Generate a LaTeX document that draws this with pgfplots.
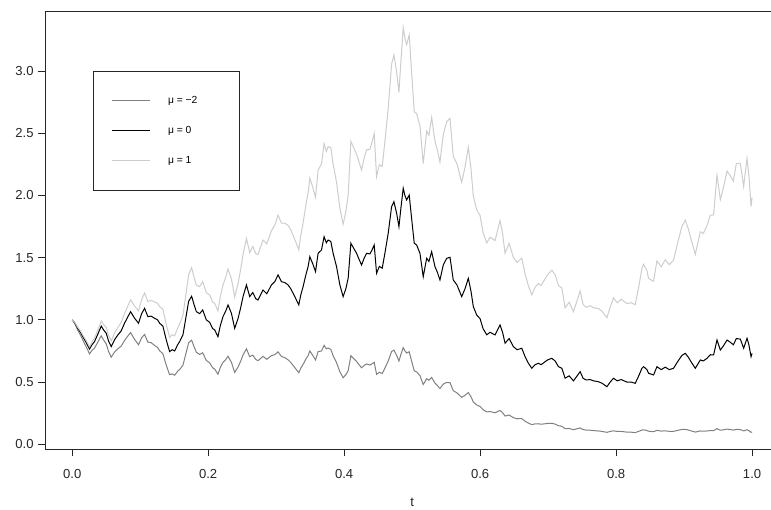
\documentclass[border=0pt]{standalone}
\usepackage{pgfplots}
\pgfplotsset{compat=1.18}
\usepackage{pgfplotstable}
\usepackage{fontspec}
\setmainfont{Liberation Sans}
\definecolor{gA}{RGB}{128,128,128}
\definecolor{gC}{RGB}{205,205,205}
\pgfplotstableread{
t m2 m0 m1
0.0000 1.000 1.000 1.000
0.0041 0.967 0.975 0.979
0.0082 0.917 0.932 0.940
0.0122 0.878 0.900 0.911
0.0156 0.838 0.865 0.879
0.0203 0.787 0.820 0.837
0.0255 0.727 0.765 0.785
0.0292 0.755 0.800 0.824
0.0328 0.773 0.825 0.853
0.0373 0.817 0.880 0.913
0.0427 0.872 0.950 0.991
0.0461 0.839 0.920 0.963
0.0501 0.807 0.892 0.938
0.0535 0.746 0.830 0.876
0.0574 0.700 0.785 0.831
0.0623 0.742 0.840 0.894
0.0672 0.768 0.879 0.940
0.0719 0.788 0.910 0.978
0.0770 0.834 0.973 1.051
0.0814 0.867 1.020 1.106
0.0859 0.898 1.066 1.162
0.0918 0.843 1.013 1.110
0.0976 0.800 0.973 1.073
0.1021 0.856 1.050 1.163
0.1065 0.883 1.093 1.216
0.1113 0.821 1.026 1.147
0.1161 0.817 1.030 1.157
0.1212 0.795 1.013 1.144
0.1256 0.778 1.000 1.134
0.1286 0.752 0.973 1.107
0.1334 0.728 0.950 1.086
0.1384 0.635 0.838 0.962
0.1433 0.559 0.745 0.860
0.1470 0.566 0.760 0.880
0.1507 0.555 0.750 0.872
0.1551 0.587 0.800 0.934
0.1580 0.601 0.825 0.966
0.1629 0.635 0.879 1.035
0.1679 0.743 1.040 1.230
0.1713 0.816 1.150 1.365
0.1757 0.837 1.190 1.419
0.1794 0.782 1.120 1.340
0.1826 0.740 1.066 1.280
0.1875 0.722 1.050 1.267
0.1919 0.736 1.080 1.308
0.1973 0.674 1.000 1.218
0.2022 0.654 0.980 1.200
0.2066 0.615 0.930 1.143
0.2096 0.604 0.919 1.133
0.2144 0.563 0.865 1.072
0.2177 0.615 0.950 1.181
0.2218 0.658 1.026 1.281
0.2258 0.681 1.070 1.341
0.2292 0.708 1.120 1.409
0.2342 0.659 1.053 1.331
0.2390 0.578 0.932 1.184
0.2439 0.620 1.010 1.289
0.2479 0.670 1.100 1.409
0.2513 0.718 1.187 1.526
0.2563 0.767 1.281 1.655
0.2611 0.704 1.187 1.541
0.2656 0.717 1.220 1.591
0.2700 0.682 1.170 1.533
0.2733 0.672 1.160 1.525
0.2807 0.707 1.240 1.642
0.2862 0.683 1.210 1.611
0.2931 0.713 1.281 1.717
0.2979 0.720 1.307 1.761
0.3028 0.743 1.361 1.842
0.3078 0.706 1.307 1.778
0.3127 0.696 1.300 1.777
0.3175 0.679 1.281 1.760
0.3215 0.657 1.250 1.724
0.3249 0.634 1.214 1.680
0.3289 0.606 1.170 1.626
0.3333 0.575 1.120 1.563
0.3362 0.612 1.200 1.680
0.3396 0.642 1.267 1.779
0.3436 0.684 1.360 1.918
0.3470 0.713 1.428 2.020
0.3495 0.750 1.508 2.139
0.3539 0.714 1.450 2.066
0.3579 0.678 1.388 1.985
0.3617 0.745 1.535 2.204
0.3667 0.750 1.562 2.254
0.3705 0.795 1.669 2.418
0.3738 0.767 1.620 2.354
0.3764 0.774 1.642 2.392
0.3804 0.762 1.630 2.385
0.3838 0.712 1.535 2.253
0.3888 0.656 1.428 2.107
0.3937 0.583 1.281 1.899
0.3985 0.535 1.187 1.768
0.4025 0.559 1.250 1.869
0.4059 0.592 1.334 2.002
0.4099 0.712 1.616 2.435
0.4136 0.691 1.580 2.389
0.4183 0.665 1.535 2.332
0.4217 0.641 1.490 2.272
0.4256 0.615 1.441 2.205
0.4297 0.635 1.500 2.305
0.4330 0.646 1.535 2.367
0.4378 0.637 1.530 2.370
0.4408 0.646 1.560 2.424
0.4442 0.659 1.602 2.498
0.4477 0.562 1.375 2.151
0.4518 0.579 1.430 2.247
0.4560 0.568 1.415 2.233
0.4599 0.612 1.535 2.431
0.4648 0.669 1.696 2.700
0.4698 0.746 1.910 3.055
0.4732 0.757 1.950 3.130
0.4772 0.715 1.857 2.993
0.4806 0.669 1.749 2.828
0.4835 0.722 1.900 3.081
0.4869 0.777 2.058 3.349
0.4894 0.751 2.000 3.263
0.4919 0.734 1.964 3.212
0.4957 0.744 2.004 3.290
0.4982 0.690 1.870 3.078
0.5031 0.591 1.616 2.673
0.5066 0.582 1.602 2.659
0.5115 0.552 1.535 2.560
0.5163 0.480 1.347 2.257
0.5214 0.527 1.495 2.518
0.5247 0.515 1.470 2.484
0.5287 0.538 1.548 2.627
0.5336 0.491 1.428 2.435
0.5373 0.471 1.380 2.362
0.5409 0.448 1.321 2.269
0.5458 0.484 1.441 2.487
0.5508 0.497 1.495 2.593
0.5557 0.495 1.503 2.620
0.5605 0.431 1.321 2.314
0.5660 0.413 1.280 2.254
0.5729 0.377 1.187 2.105
0.5778 0.394 1.250 2.228
0.5826 0.416 1.334 2.389
0.5866 0.381 1.230 2.211
0.5900 0.340 1.106 1.995
0.5950 0.316 1.039 1.884
0.5999 0.304 1.010 1.840
0.6043 0.278 0.930 1.702
0.6097 0.260 0.880 1.619
0.6146 0.263 0.900 1.664
0.6219 0.253 0.879 1.637
0.6293 0.272 0.959 1.799
0.6330 0.254 0.900 1.695
0.6367 0.227 0.812 1.535
0.6426 0.235 0.850 1.616
0.6489 0.214 0.785 1.502
0.6544 0.205 0.760 1.462
0.6613 0.206 0.772 1.496
0.6661 0.186 0.704 1.370
0.6710 0.170 0.651 1.273
0.6760 0.158 0.611 1.201
0.6809 0.164 0.640 1.264
0.6857 0.165 0.651 1.292
0.6897 0.161 0.640 1.276
0.6956 0.165 0.664 1.331
0.7000 0.168 0.680 1.369
0.7054 0.169 0.691 1.399
0.7103 0.162 0.670 1.363
0.7152 0.149 0.624 1.276
0.7202 0.145 0.611 1.256
0.7250 0.125 0.531 1.096
0.7309 0.127 0.550 1.142
0.7373 0.117 0.510 1.066
0.7427 0.125 0.550 1.156
0.7471 0.131 0.584 1.233
0.7515 0.118 0.530 1.124
0.7559 0.114 0.517 1.101
0.7618 0.113 0.520 1.114
0.7667 0.110 0.510 1.098
0.7740 0.107 0.503 1.091
0.7795 0.103 0.490 1.068
0.7865 0.096 0.463 1.017
0.7913 0.103 0.500 1.103
0.7962 0.108 0.531 1.177
0.8016 0.103 0.510 1.137
0.8075 0.103 0.520 1.166
0.8159 0.098 0.500 1.131
0.8222 0.097 0.500 1.138
0.8281 0.094 0.490 1.122
0.8333 0.104 0.550 1.266
0.8380 0.114 0.611 1.412
0.8404 0.116 0.624 1.446
0.8454 0.111 0.600 1.397
0.8477 0.105 0.571 1.333
0.8551 0.101 0.557 1.310
0.8601 0.112 0.624 1.475
0.8664 0.106 0.600 1.427
0.8723 0.108 0.620 1.483
0.8782 0.104 0.600 1.444
0.8845 0.104 0.611 1.480
0.8900 0.111 0.660 1.607
0.8969 0.119 0.715 1.753
0.9018 0.120 0.731 1.801
0.9062 0.114 0.700 1.732
0.9106 0.107 0.660 1.641
0.9165 0.098 0.611 1.528
0.9239 0.107 0.678 1.708
0.9283 0.105 0.670 1.695
0.9337 0.107 0.691 1.758
0.9386 0.110 0.720 1.841
0.9434 0.109 0.718 1.844
0.9484 0.126 0.838 2.163
0.9533 0.113 0.758 1.966
0.9577 0.116 0.790 2.059
0.9632 0.122 0.838 2.196
0.9680 0.118 0.820 2.159
0.9725 0.114 0.800 2.116
0.9769 0.120 0.850 2.258
0.9828 0.118 0.845 2.258
0.9876 0.107 0.772 2.073
0.9926 0.117 0.852 2.299
0.9953 0.109 0.800 2.164
0.9985 0.096 0.704 1.911
1.0000 0.099 0.730 1.984
}\paths
\begin{document}
\begin{tikzpicture}
\useasboundingbox (-33.75pt,-45.75pt) rectangle (544.5pt,336.75pt);
\begin{axis}[
  at={(0pt,0pt)}, anchor=south west,
  scale only axis, width=550.7pt, height=328.5pt,
  xmin=-0.04, xmax=1.04, ymin=-0.038, ymax=3.483,
  xtick={0,0.2,0.4,0.6,0.8,1.0},
  ytick={0,0.5,1,1.5,2,2.5,3},
  tick pos=left, tick align=outside, major tick length=5pt,
  tick style={black!85, line width=0.6pt},
  axis line style={black!85, line width=0.6pt},
  /pgf/number format/assume math mode=true,
  ticklabel style={font=\fontsize{9.8}{12}\selectfont, text=black!85},
  x tick label style={yshift=-7pt, /pgf/number format/.cd, fixed, fixed zerofill, precision=1, /tikz/.cd},
  y tick label style={/pgf/number format/.cd, fixed, fixed zerofill, precision=1, /tikz/.cd},
  xlabel={t},
  xlabel style={at={(axis description cs:0.5,0)}, anchor=base, yshift=-43.5pt, inner sep=0pt, font=\fontsize{9.8}{12}\selectfont, text=black!85},
  legend cell align=left,
  legend image code/.code={\draw[#1] (0pt,0pt) -- (28.5pt,0pt);},
  legend style={at={(0.0657,0.8628)}, anchor=north west, draw=black!85, line width=0.6pt,
    inner xsep=13.3pt, inner ysep=10.7pt, row sep=0pt, column sep=13.3pt,
    font=\fontsize{7.7}{9}\selectfont,
    nodes={inner sep=0pt, minimum height=22.5pt}},
]
\addplot[gA, line width=0.75pt] table[x=t, y=m2] {\paths};
\addlegendentry{\makebox[39.9pt][l]{μ = −2}}
\addplot[black, line width=0.75pt] table[x=t, y=m0] {\paths};
\addlegendentry{\makebox[39.9pt][l]{μ = 0}}
\addplot[gC, line width=0.75pt] table[x=t, y=m1] {\paths};
\addlegendentry{\makebox[39.9pt][l]{μ = 1}}
\end{axis}
\end{tikzpicture}
\end{document}
